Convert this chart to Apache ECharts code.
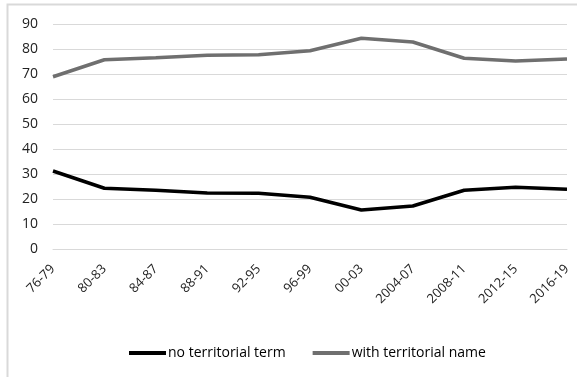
<!DOCTYPE html>
<html>
<head>
<meta charset="utf-8">
<script src="https://cdn.jsdelivr.net/npm/echarts@6/dist/echarts.min.js"></script>
<style>
  html, body { margin: 0; padding: 0; background: #fff; }
  #chart { width: 577px; height: 377px; }
</style>
</head>
<body>
<div id="chart"></div>
<script>
// periods along the x axis
const periods = ["76-79", "80-83", "84-87", "88-91", "92-95", "96-99", "00-03", "2004-07", "2008-11", "2012-15", "2016-19"];

// share of names (%)
const noTerritorial = [31.2, 24.3, 23.5, 22.4, 22.3, 20.7, 15.6, 17.2, 23.5, 24.7, 23.9];
const withTerritorial = [68.9, 75.7, 76.5, 77.5, 77.7, 79.3, 84.3, 82.8, 76.3, 75.2, 76.0];

const seriesNames = ["no territorial term", "with territorial name"];
const lineColors = ["#000000", "#6f6f6f"];

const chart = echarts.init(document.getElementById("chart"));

const fontFam = "'Open Sans', 'Liberation Sans', sans-serif";

chart.setOption({
  animation: false,
  textStyle: { fontFamily: fontFam },
  graphic: [
    {
      type: "rect",
      shape: { x: 7.5, y: 4.5, width: 600, height: 400 },
      style: { fill: "none", stroke: "#d9d9d9", lineWidth: 2 },
      silent: true
    }
  ],
  grid: { left: 53, right: 10, top: 24, bottom: 128 },
  legend: {
    bottom: 12,
    left: 124,
    icon: "rect",
    itemWidth: 37,
    itemHeight: 4,
    itemGap: 27,
    textStyle: { fontSize: 14, color: "#000", padding: [0, 0, 0, -3] },
    data: seriesNames
  },
  xAxis: {
    type: "category",
    data: periods,
    boundaryGap: false,
    axisLine: { lineStyle: { color: "#d9d9d9", width: 1 } },
    axisTick: { show: false },
    axisLabel: { rotate: 45, fontSize: 13, color: "#222", margin: 18, interval: 0 }
  },
  yAxis: {
    type: "value",
    min: 0,
    max: 90,
    interval: 10,
    axisLine: { show: false },
    axisTick: { show: false },
    axisLabel: { fontSize: 14, color: "#222", margin: 15 },
    splitLine: { lineStyle: { color: "#d9d9d9", width: 1 } }
  },
  series: [
    {
      name: seriesNames[0],
      type: "line",
      data: noTerritorial,
      symbol: "none",
      lineStyle: { color: lineColors[0], width: 3.5 },
      itemStyle: { color: lineColors[0] }
    },
    {
      name: seriesNames[1],
      type: "line",
      data: withTerritorial,
      symbol: "none",
      lineStyle: { color: lineColors[1], width: 3.5 },
      itemStyle: { color: lineColors[1] }
    }
  ]
});
</script>
</body>
</html>
